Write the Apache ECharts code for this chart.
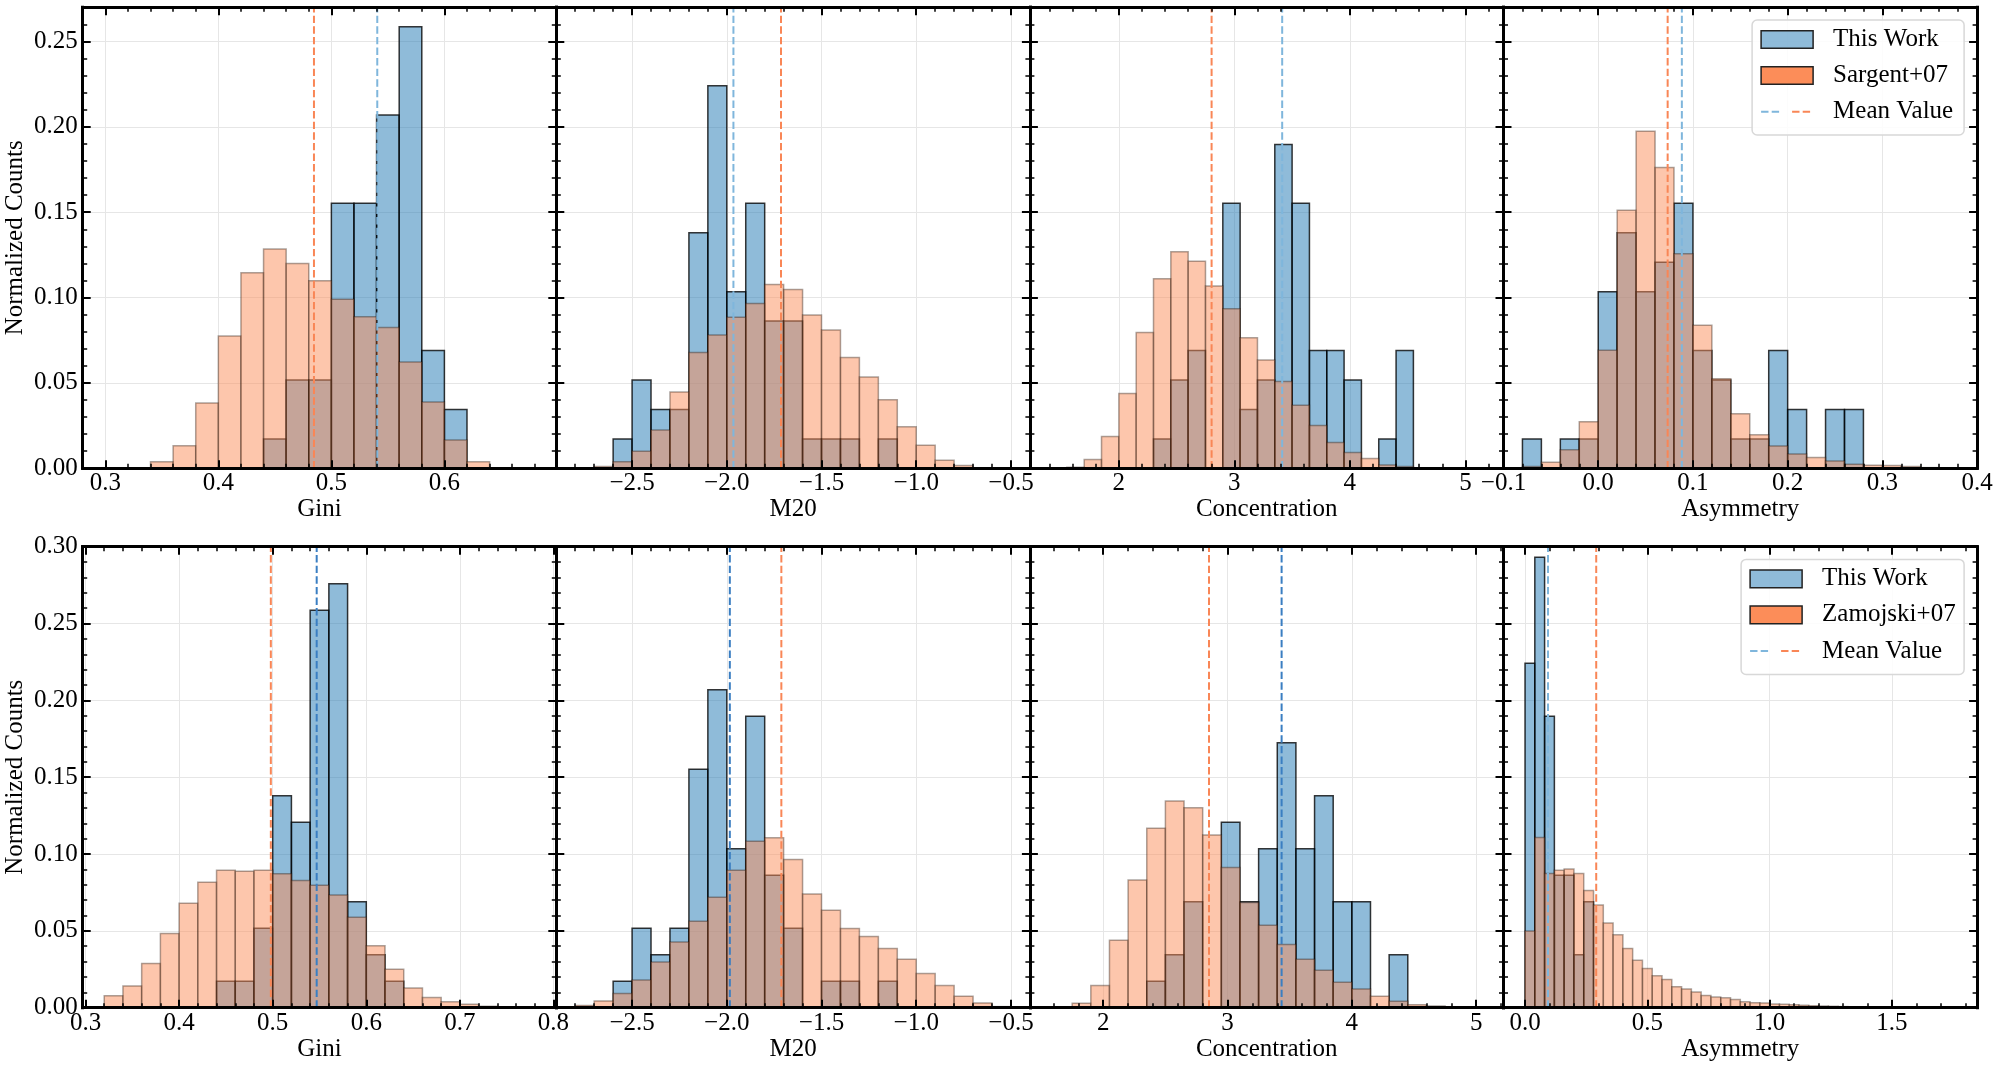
<!DOCTYPE html>
<html>
<head>
<meta charset="utf-8">
<script src="https://cdn.jsdelivr.net/npm/echarts@6/dist/echarts.min.js"></script>
<style>
  html, body { margin: 0; padding: 0; background: #fff; }
  #chart { width: 2000px; height: 1070px; }
</style>
</head>
<body>
<div id="chart"></div>
<script>
// ---- data: normalized counts per bin (top row: This Work vs Sargent+07) ----
var titles = ['Gini', 'M20', 'Concentration', 'Asymmetry'];
var refNames = ['Sargent+07', 'Zamojski+07'];

var binWidthA = [0.02, 0.1, 0.15, 0.02];
var workStartA = [0.44, -2.6, 2.30, -0.08];
var refStartA = [0.34, -2.7, 1.55, -0.08];

var workGiniA = [0.0172, 0.0517, 0.0517, 0.1552, 0.1552, 0.2069, 0.2586, 0.0690, 0.0345];
var refGiniA = [0.0038, 0.0132, 0.0383, 0.0775, 0.1146, 0.1285, 0.1200, 0.1099, 0.0990, 0.0887, 0.0824, 0.0623, 0.0389, 0.0166, 0.0038];
var workM20A = [0.0172, 0.0517, 0.0345, 0.0345, 0.1379, 0.2241, 0.1034, 0.1552, 0.0862, 0.0862, 0.0172, 0.0172, 0.0172, 0, 0.0172];
var refM20A = [0.0010, 0.0039, 0.0100, 0.0224, 0.0447, 0.0678, 0.0780, 0.0884, 0.0965, 0.1076, 0.1047, 0.0898, 0.0810, 0.0649, 0.0535, 0.0402, 0.0243, 0.0135, 0.0047, 0.0016];
var workConcA = [0.0172, 0.0517, 0.0690, 0, 0.1552, 0.0345, 0.0517, 0.1897, 0.1552, 0.0690, 0.0690, 0.0517, 0, 0.0172, 0.0690];
var refConcA = [0.0006, 0.0051, 0.0186, 0.0438, 0.0795, 0.1110, 0.1268, 0.1213, 0.1067, 0.0934, 0.0765, 0.0634, 0.0508, 0.0369, 0.0251, 0.0151, 0.0092, 0.0057, 0.0020, 0.0010, 0.0003];
var workAsymA = [0.0172, 0, 0.0172, 0.0172, 0.1034, 0.1379, 0.1034, 0.1207, 0.1552, 0.0690, 0.0517, 0.0172, 0.0172, 0.0690, 0.0345, 0, 0.0345, 0.0345];
var refAsymA = [0.0010, 0.0035, 0.0108, 0.0273, 0.0691, 0.1511, 0.1974, 0.1762, 0.1256, 0.0838, 0.0524, 0.0320, 0.0196, 0.0131, 0.0084, 0.0063, 0.0043, 0.0024, 0.0018, 0.0016, 0.0010, 0.0004];

var workMeanA = [0.5406, -1.965, 3.414, 0.0883];
var refMeanA = [0.4846, -1.714, 2.803, 0.0733];

// ---- bottom row: This Work vs Zamojski+07 ----
var binWidthB = [0.02, 0.1, 0.15, 0.04];
var workStartB = [0.44, -2.6, 2.35, 0];
var refStartB = [0.32, -2.8, 1.75, 0];

var workGiniB = [0.0172, 0.0172, 0.0517, 0.1379, 0.1207, 0.2586, 0.2759, 0.0690, 0.0345, 0.0172];
var refGiniB = [0.0078, 0.0142, 0.0288, 0.0483, 0.0680, 0.0817, 0.0895, 0.0888, 0.0895, 0.0872, 0.0828, 0.0797, 0.0733, 0.0589, 0.0403, 0.0250, 0.0128, 0.0066, 0.0038, 0.0022, 0.0009, 0.0004];
var workM20B = [0.0172, 0.0517, 0.0345, 0.0517, 0.1552, 0.2069, 0.1034, 0.1897, 0.0862, 0.0517, 0, 0.0172, 0.0172, 0, 0.0172];
var refM20B = [0.0015, 0.0044, 0.0093, 0.0180, 0.0297, 0.0428, 0.0563, 0.0718, 0.0895, 0.1084, 0.1106, 0.0964, 0.0740, 0.0634, 0.0516, 0.0463, 0.0386, 0.0315, 0.0222, 0.0144, 0.0075, 0.0031, 0.0007];
var workConcB = [0.0172, 0.0345, 0.0690, 0, 0.1207, 0.0690, 0.1034, 0.1724, 0.1034, 0.1379, 0.0690, 0.0690, 0, 0.0345];
var refConcB = [0.0029, 0.0144, 0.0439, 0.0831, 0.1168, 0.1345, 0.1301, 0.1124, 0.0913, 0.0685, 0.0536, 0.0412, 0.0315, 0.0244, 0.0166, 0.0122, 0.0075, 0.0042, 0.0020, 0.0011, 0.0004];
var workAsymB = [0.2241, 0.2931, 0.1897, 0.0862, 0.0862, 0.0345, 0.0690];
var refAsymB = [0.0499, 0.1108, 0.0873, 0.0895, 0.0902, 0.0873, 0.0762, 0.0669, 0.0552, 0.0474, 0.0386, 0.0308, 0.0255, 0.0208, 0.0184, 0.0137, 0.0122, 0.0102, 0.0080, 0.0069, 0.0064, 0.0053, 0.0038, 0.0033, 0.0031, 0.0024, 0.0022, 0.0020, 0.0016, 0.0013, 0.0011, 0.0009, 0.0007, 0.0005, 0.0004, 0.0003, 0.0003, 0.0002, 0.0002, 0.0001, 0.0001];

var workMeanB = [0.547, -1.984, 3.435, 0.094];
var refMeanB = [0.498, -1.712, 2.851, 0.291];

// ---- axes ----
var xMinA = [0.28, -2.90, 1.23, -0.10];
var xMaxA = [0.699, -0.40, 5.33, 0.40];
var xMinB = [0.297, -2.90, 1.41, -0.088];
var xMaxB = [0.803, -0.40, 5.22, 1.848];

var xTicksA = [[0.3, 0.4, 0.5, 0.6], [-2.5, -2.0, -1.5, -1.0, -0.5], [2, 3, 4, 5], [-0.1, 0.0, 0.1, 0.2, 0.3, 0.4]];
var xTicksB = [[0.3, 0.4, 0.5, 0.6, 0.7, 0.8], [-2.5, -2.0, -1.5, -1.0, -0.5], [2, 3, 4, 5], [0.0, 0.5, 1.0, 1.5]];
var xMinorStepA = [0.02, 0.1, 0.2, 0.02];
var xMinorStepB = [0.02, 0.1, 0.2, 0.1];
var xDecimals = [1, 1, 0, 1];

var yTicksA = [0, 0.05, 0.10, 0.15, 0.20, 0.25];
var yTicksB = [0, 0.05, 0.10, 0.15, 0.20, 0.25, 0.30];
var yMax = [0.27, 0.30];
var yMinorStep = 0.01;

// ---- style ----
var FONT = '"Liberation Serif", "Times New Roman", Times, serif';
var WORK_FILL = 'rgba(31,119,180,0.5)';
var WORK_EDGE = 'rgba(0,0,0,0.78)';
var REF_FILL = 'rgba(252,141,89,0.5)';
var REF_EDGE = 'rgba(40,20,10,0.38)';
var REF_LEGEND = '#fc8d59';
var MEAN_LIGHT = '#7fb6dc';
var MEAN_DARK = '#3a7ec2';
var MEAN_REF = '#f98656';

var panelLeft = [82.7, 556.3, 1029.9, 1503.5];
var panelWidth = 473.6;
var rowTop = [7.3, 546.7];
var rowHeight = 461;

var chart = echarts.init(document.getElementById('chart'));

function minorValues(min, max, step) {
  var out = [];
  var k0 = Math.ceil(min / step - 1e-6), k1 = Math.floor(max / step + 1e-6);
  for (var k = k0; k <= k1; k++) out.push(+(k * step).toFixed(4));
  return out;
}

function fmt(v, dec) {
  return v.toFixed(dec).replace('-', '\u2212');
}

function histData(start, width, heights) {
  return heights.map(function (h, i) {
    var x0 = +(start + i * width).toFixed(4);
    return [x0, +(x0 + width).toFixed(4), h];
  });
}

function makeRender(fill, stroke) {
  return function (params, api) {
    var h = api.value(2);
    if (!h) return null;
    var p0 = api.coord([api.value(0), 0]);
    var p1 = api.coord([api.value(1), h]);
    return {
      type: 'rect',
      shape: { x: p0[0], y: p1[1], width: p1[0] - p0[0], height: p0[1] - p1[1] },
      style: { fill: fill, stroke: stroke, lineWidth: 1.5 }
    };
  };
}

// decoration axis: frame line and/or inside ticks
function tickAxis(g, pos, min, max, values, len, width, showLine, color, z) {
  return {
    gridIndex: g, type: 'value', position: pos, min: min, max: max, z: z,
    axisLine: { show: showLine, onZero: false, lineStyle: { color: '#000', width: 3, cap: 'square' } },
    axisTick: { show: true, inside: true, length: len, customValues: values, lineStyle: { color: color, width: width } },
    axisLabel: { show: false },
    splitLine: { show: false },
    splitArea: { show: false },
    minorTick: { show: false }
  };
}

var grids = [], xAxes = [], yAxes = [], series = [];

var rows = [
  {
    binWidth: binWidthA, workStart: workStartA, refStart: refStartA,
    work: [workGiniA, workM20A, workConcA, workAsymA],
    ref: [refGiniA, refM20A, refConcA, refAsymA],
    workMean: workMeanA, refMean: refMeanA,
    xMin: xMinA, xMax: xMaxA, xTicks: xTicksA, xMinor: xMinorStepA,
    yTicks: yTicksA, workMeanColor: [MEAN_LIGHT, MEAN_LIGHT, MEAN_LIGHT, MEAN_LIGHT]
  },
  {
    binWidth: binWidthB, workStart: workStartB, refStart: refStartB,
    work: [workGiniB, workM20B, workConcB, workAsymB],
    ref: [refGiniB, refM20B, refConcB, refAsymB],
    workMean: workMeanB, refMean: refMeanB,
    xMin: xMinB, xMax: xMaxB, xTicks: xTicksB, xMinor: xMinorStepB,
    yTicks: yTicksB, workMeanColor: [MEAN_DARK, MEAN_DARK, MEAN_DARK, MEAN_LIGHT]
  }
];

rows.forEach(function (R, r) {
  var ym = yMax[r];
  var yMinor = minorValues(0, ym, yMinorStep);
  for (var c = 0; c < 4; c++) {
    var g = grids.length;
    grids.push({
      left: panelLeft[c], top: rowTop[r], width: panelWidth, height: rowHeight,
      containLabel: false, outerBoundsMode: 'none', show: false
    });
    var xmin = R.xMin[c], xmax = R.xMax[c];
    var majors = R.xTicks[c];
    var minors = minorValues(xmin, xmax, R.xMinor[c]);
    var dec = xDecimals[c];

    // x: labels + grid lines
    var xi = xAxes.length;
    xAxes.push({
      gridIndex: g, type: 'value', position: 'bottom', min: xmin, max: xmax, z: 0,
      name: titles[c], nameLocation: 'middle', nameGap: 25,
      nameTextStyle: { fontFamily: FONT, fontSize: 25, color: '#000' },
      axisLine: { show: false, onZero: false },
      axisTick: { show: true, inside: true, length: rowHeight, customValues: majors, lineStyle: { color: '#e6e6e6', width: 1 } },
      axisLabel: {
        show: true, customValues: majors, margin: 3, fontFamily: FONT, fontSize: 25, color: '#000',
        formatter: (function (d) { return function (v) { return fmt(v, d); }; })(dec)
      },
      splitLine: { show: false }
    });
    xAxes.push(tickAxis(g, 'bottom', xmin, xmax, majors, 8, 2, true, '#000', 6));
    xAxes.push(tickAxis(g, 'bottom', xmin, xmax, minors, 4.5, 1.5, false, '#000', 6));
    xAxes.push(tickAxis(g, 'top', xmin, xmax, majors, 8, 2, true, '#000', 6));
    xAxes.push(tickAxis(g, 'top', xmin, xmax, minors, 4.5, 1.5, false, '#000', 6));

    // y: labels (first column) + grid lines
    var yi = yAxes.length;
    yAxes.push({
      gridIndex: g, type: 'value', position: 'left', min: 0, max: ym, z: 0,
      name: c === 0 ? 'Normalized Counts' : '', nameLocation: 'middle', nameGap: 55, nameRotate: 90,
      nameTextStyle: { fontFamily: FONT, fontSize: 25, color: '#000' },
      axisLine: { show: false, onZero: false },
      axisTick: { show: true, inside: true, length: panelWidth, customValues: R.yTicks, lineStyle: { color: '#e6e6e6', width: 1 } },
      axisLabel: {
        show: c === 0, customValues: R.yTicks, margin: 5, fontFamily: FONT, fontSize: 25, color: '#000',
        formatter: function (v) { return v.toFixed(2); }
      },
      splitLine: { show: false }
    });
    yAxes.push(tickAxis(g, 'left', 0, ym, R.yTicks, 8, 2, true, '#000', 6));
    yAxes.push(tickAxis(g, 'left', 0, ym, yMinor, 4.5, 1.5, false, '#000', 6));
    yAxes.push(tickAxis(g, 'right', 0, ym, R.yTicks, 8, 2, true, '#000', 6));
    yAxes.push(tickAxis(g, 'right', 0, ym, yMinor, 4.5, 1.5, false, '#000', 6));

    series.push({
      type: 'custom', name: 'This Work', xAxisIndex: xi, yAxisIndex: yi, z: 2, silent: true,
      renderItem: makeRender(WORK_FILL, WORK_EDGE),
      encode: { x: [0, 1], y: 2 },
      data: histData(R.workStart[c], R.binWidth[c], R.work[c])
    });
    series.push({
      type: 'custom', name: refNames[r], xAxisIndex: xi, yAxisIndex: yi, z: 3, silent: true,
      renderItem: makeRender(REF_FILL, REF_EDGE),
      encode: { x: [0, 1], y: 2 },
      data: histData(R.refStart[c], R.binWidth[c], R.ref[c])
    });
    series.push({
      type: 'line', name: 'Mean Value', xAxisIndex: xi, yAxisIndex: yi, z: 4, silent: true,
      symbol: 'none', showSymbol: false,
      data: [[R.workMean[c], 0], [R.workMean[c], ym]],
      lineStyle: { color: R.workMeanColor[c], width: 2, type: [7.4, 3.2] }
    });
    series.push({
      type: 'line', name: 'Mean Value', xAxisIndex: xi, yAxisIndex: yi, z: 4, silent: true,
      symbol: 'none', showSymbol: false,
      data: [[R.refMean[c], 0], [R.refMean[c], ym]],
      lineStyle: { color: MEAN_REF, width: 2, type: [7.4, 3.2] }
    });
  }
});

// legend boxes (upper right of the last panel in each row)
var legendWidth = [212, 223];
var graphics = [];
[0, 1].forEach(function (r) {
  var right = panelLeft[3] + panelWidth - 13;
  var x = right - legendWidth[r];
  var y = rowTop[r] + 12.7;
  var rowY = [19.5, 55.5, 91.7];
  var labels = ['This Work', refNames[r], 'Mean Value'];
  graphics.push({
    type: 'rect', z: 20, silent: true,
    shape: { x: x, y: y, width: legendWidth[r], height: 115, r: 5 },
    style: { fill: 'rgba(255,255,255,0.85)', stroke: '#d8d8d8', lineWidth: 1.5 }
  });
  graphics.push({
    type: 'rect', z: 21, silent: true,
    shape: { x: x + 9, y: y + rowY[0] - 8.8, width: 52, height: 17.6 },
    style: { fill: WORK_FILL, stroke: '#222', lineWidth: 1.5 }
  });
  graphics.push({
    type: 'rect', z: 21, silent: true,
    shape: { x: x + 9, y: y + rowY[1] - 8.8, width: 52, height: 17.6 },
    style: { fill: REF_LEGEND, stroke: '#222', lineWidth: 1.5 }
  });
  graphics.push({
    type: 'line', z: 21, silent: true,
    shape: { x1: x + 9, y1: y + rowY[2], x2: x + 28, y2: y + rowY[2] },
    style: { stroke: MEAN_LIGHT, lineWidth: 2, lineDash: [7.4, 3.2] }
  });
  graphics.push({
    type: 'line', z: 21, silent: true,
    shape: { x1: x + 40, y1: y + rowY[2], x2: x + 61, y2: y + rowY[2] },
    style: { stroke: MEAN_REF, lineWidth: 2, lineDash: [7.4, 3.2] }
  });
  labels.forEach(function (t, i) {
    graphics.push({
      type: 'text', z: 21, silent: true, x: x + 81, y: y + rowY[i],
      style: { text: t, fill: '#000', font: '25px ' + FONT, align: 'left', verticalAlign: 'middle' }
    });
  });
});

chart.setOption({
  backgroundColor: '#fff',
  animation: false,
  textStyle: { fontFamily: FONT },
  grid: grids,
  xAxis: xAxes,
  yAxis: yAxes,
  series: series,
  graphic: graphics
});
</script>
</body>
</html>
